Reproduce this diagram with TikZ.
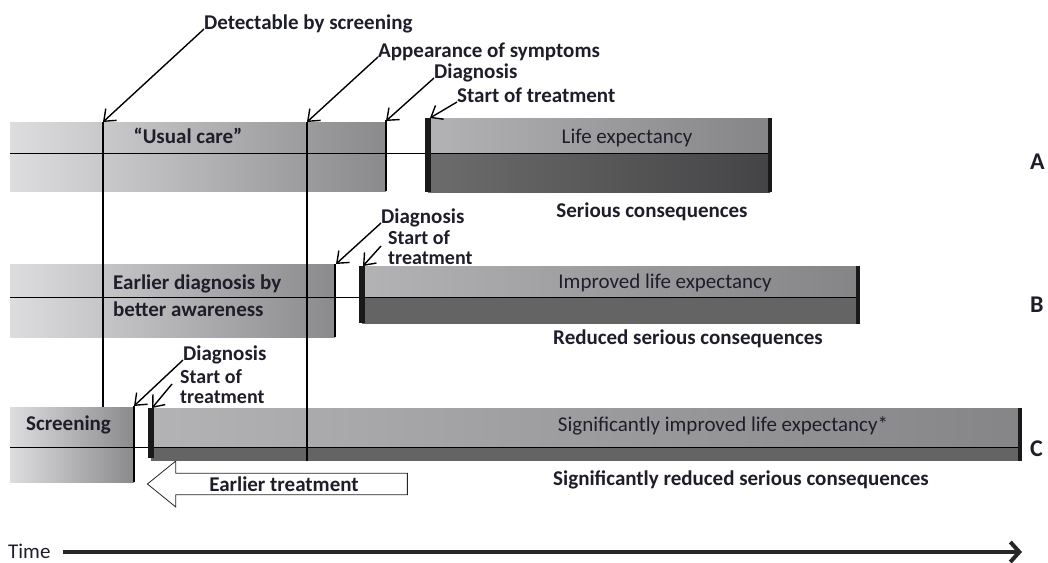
\documentclass[tikz,border=0pt]{standalone}
\usepackage{fontspec}
\setmainfont{Carlito}
\usetikzlibrary{positioning,arrows.meta,shapes.arrows}

\definecolor{ink}{HTML}{1E1E2A}
\definecolor{earlyL}{HTML}{DDDDDF}
\definecolor{earlyR}{HTML}{8A8A8C}
\definecolor{lifeL}{HTML}{B3B3B5}
\definecolor{lifeR}{HTML}{858587}
\definecolor{darkL}{HTML}{6C6C6C}
\definecolor{darkR}{HTML}{444446}
\definecolor{darkB}{HTML}{646464}

\begin{document}
\begin{tikzpicture}[x=1pt,y=-1pt,
  lbl/.style={font=\bfseries\fontsize{21}{18}\selectfont, text=ink, inner sep=0, anchor=base west},
  twolbl/.style={font=\bfseries\fontsize{20}{20}\selectfont, text=ink, inner sep=0, anchor=north west, align=left},
  barlbl/.style={font=\fontsize{21}{18}\selectfont, text=ink, inner sep=0, anchor=base},
  conslbl/.style={font=\bfseries\fontsize{21}{18}\selectfont, text=ink, inner sep=0, anchor=base},
  rowlbl/.style={font=\bfseries\fontsize{24}{24}\selectfont, text=ink, inner sep=0, anchor=west},
  lead/.style={-{Straight Barb[length=10pt,width=16pt]}, line width=1.4pt},
  vline/.style={line width=1.8pt},
  midline/.style={line width=1pt},
  startbar/.style={line width=6pt, draw=black!90},
  endbar/.style={line width=4pt, draw=black!90}
]
\useasboundingbox (0,0) rectangle (1048,562);

% row A
\shade[left color=earlyL, right color=earlyR] (10,122) rectangle (386,191);
\shade[left color=lifeL, right color=lifeR] (428,118) rectangle (770,153);
\shade[left color=darkL, right color=darkR] (428,153) rectangle (770,192);
\draw[midline] (10,153) -- (770,153);
\draw[vline] (386,120) -- (386,191);
\draw[startbar] (428,118) -- (428,192);
\draw[endbar] (770,118) -- (770,192);

% row B
\shade[left color=earlyL, right color=earlyR] (10,264) rectangle (335,337);
\shade[left color=lifeL, right color=lifeR] (362,266) rectangle (858,297);
\fill[darkB] (362,297) rectangle (858,324);
\draw[midline] (10,297) -- (858,297);
\draw[vline] (335,264) -- (335,337);
\draw[startbar] (362,266) -- (362,323);
\draw[endbar] (858,266) -- (858,324);

% row C
\node[single arrow, draw=black!85, line width=0.8pt, fill=white, shape border rotate=180,
  minimum height=260pt, minimum width=46pt, single arrow head extend=9pt, single arrow tip angle=78,
  inner sep=0, font=\bfseries\fontsize{21}{18}\selectfont, text=ink] (earlier) at (284,484) {Earlier treatment};
\shade[left color=earlyL, right color=earlyR] (10,407) rectangle (134,482);
\shade[left color=lifeL, right color=lifeR] (151,408) rectangle (1020,447);
\fill[darkB] (151,447) rectangle (1020,461);
\draw[midline] (10,447) -- (1020,447);
\draw[vline] (134,406) -- (134,482);
\draw[startbar] (151,408) -- (151,458);
\draw[endbar] (1020,408) -- (1020,461);

% long marks
\draw[vline] (103,122) -- (103,407);
\draw[vline] (307,122) -- (307,461);

\coordinate (detect) at (103,122);
\coordinate (symptom) at (307,122);
\coordinate (diagA) at (386,121);
\coordinate (treatA) at (430,118);
\coordinate (diagB) at (336,264);
\coordinate (treatB) at (363,266);
\coordinate (diagC) at (134,406);
\coordinate (treatC) at (152,408);

% labels and leaders
\node[lbl] (detlbl) at (204,29) {Detectable by screening};
\node[lbl] (symlbl) at (378,57) {Appearance of symptoms};
\node[lbl] (diaglblA) at (434,78) {Diagnosis};
\node[lbl] (treatlblA) at (457,102) {Start of treatment};
\node[lbl] (diaglblB) at (381,223) {Diagnosis};
\node[twolbl] (treatlblB) at (388,230) {Start of\\treatment};
\node[lbl] (diaglblC) at (183,360) {Diagnosis};
\node[twolbl] (treatlblC) at (180,369) {Start of\\treatment};

\draw[lead] (detlbl.base west) -- (detect);
\draw[lead] (symlbl.base west) -- (symptom);
\draw[lead] (diaglblA.base west) -- (diagA);
\draw[lead] (treatlblA.base west) -- (treatA);
\draw[lead] (diaglblB.base west) -- (diagB);
\draw[lead] ([xshift=-7pt,yshift=-16pt]treatlblB.north west) -- (treatB);
\draw[lead] (diaglblC.base west) -- (diagC);
\draw[lead] ([xshift=-8pt,yshift=-15pt]treatlblC.north west) -- (treatC);

% bar texts
\node[lbl, anchor=base] (usual) at (188,143) {``Usual care''};
\node[barlbl] (lifeA) at (627,143) {Life expectancy};
\node[conslbl] (consA) at (652,217) {Serious consequences};
\node[lbl, anchor=north west, align=left, font=\bfseries\fontsize{21}{27}\selectfont] (aware) at (113,275) {Earlier diagnosis by\\better awareness};
\node[barlbl] (lifeB) at (665,288) {Improved life expectancy};
\node[conslbl] (consB) at (688,344) {Reduced serious consequences};
\node[lbl] (screen) at (26,430) {Screening};
\node[barlbl] (lifeC) at (723,431) {Significantly improved life expectancy*};
\node[conslbl] (consC) at (741,485) {Significantly reduced serious consequences};

\node[rowlbl] (rowA) at (1030,162) {A};
\node[rowlbl] (rowB) at (1030,305) {B};
\node[rowlbl] (rowC) at (1030,449) {C};

% time axis
\node[font=\fontsize{21}{20}\selectfont, text=ink, inner sep=0, anchor=base west] (timelbl) at (8,558) {Time};
\coordinate (timeend) at (1022,552);
\draw[line width=4pt, draw=black!85, -{Straight Barb[length=9pt,width=20pt]}, shorten <=12pt] (timelbl.east |- timeend) -- (timeend);
\end{tikzpicture}
\end{document}
